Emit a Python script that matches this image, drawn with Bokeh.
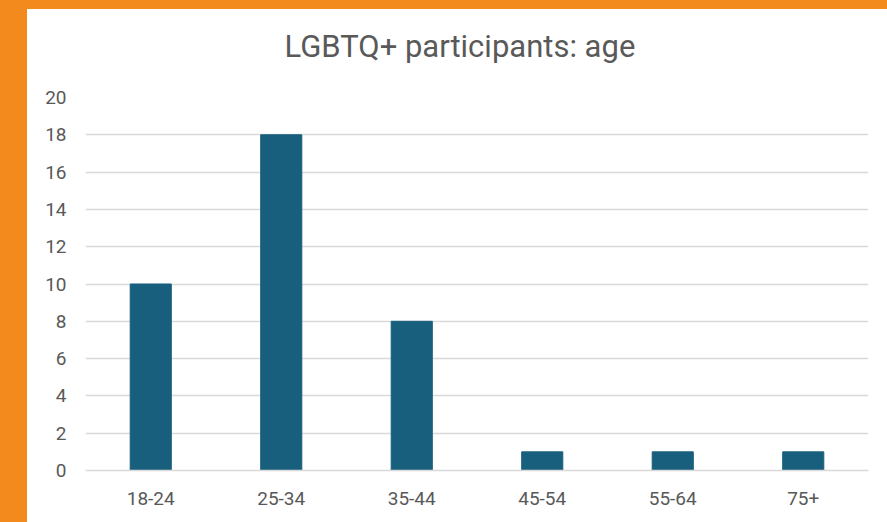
from bokeh.plotting import figure
from bokeh.models import ColumnDataSource, FactorRange, Range1d, SingleIntervalTicker, Title
from bokeh.layouts import column
from bokeh.embed import file_html
from bokeh.resources import INLINE

# Age bands and number of participants in each
age_groups = ["18-24", "25-34", "35-44", "45-54", "55-64", "75+"]
participants = [10, 18, 8, 1, 1, 1]

BAR = "#185f7e"
TEXT = "#595959"
GRID = "#d9d9d9"
ORANGE = "#f28a1e"
FONT = "Roboto"

source = ColumnDataSource(dict(age=age_groups, n=participants))

p = figure(
    x_range=FactorRange(*age_groups, range_padding=0),
    y_range=Range1d(0, 20),
    width=860, height=513,
    output_backend="svg", toolbar_location=None,
    title="LGBTQ+ participants: age",
    min_border_left=58, min_border_right=19,
    min_border_top=88, min_border_bottom=52,
    margin=(9, 0, 0, 27),
    styles={"background-color": "white"},
)

# blank spacer between the title and the plot area
p.add_layout(Title(text=" ", text_font_size="12px", standoff=12), "above")

p.vbar(x="age", top="n", width=0.315, source=source, color=BAR)

# title
p.title.align = "left"
p.title.offset = 199
p.title.standoff = 10
p.title.text_font = FONT
p.title.text_font_size = "31px"
p.title.text_font_style = "normal"
p.title.text_color = TEXT

# y axis: gridlines every 2, no axis line
p.yaxis.ticker = SingleIntervalTicker(interval=2)
p.yaxis.axis_line_color = None
p.yaxis.major_tick_line_color = None
p.yaxis.minor_tick_line_color = None
p.yaxis.major_label_standoff = 13
p.yaxis.major_label_text_font = FONT
p.yaxis.major_label_text_font_size = "19px"
p.yaxis.major_label_text_color = TEXT

# x axis
p.xaxis.axis_line_color = GRID
p.xaxis.axis_line_width = 1.5
p.xaxis.major_tick_line_color = None
p.xaxis.minor_tick_line_color = None
p.xaxis.major_label_standoff = 15
p.xaxis.major_label_text_font = FONT
p.xaxis.major_label_text_font_size = "19px"
p.xaxis.major_label_text_color = TEXT

p.xgrid.grid_line_color = None
p.ygrid.grid_line_color = GRID
p.ygrid.grid_line_width = 1.5
p.outline_line_color = None
p.background_fill_color = "white"
p.border_fill_color = "white"

page = column(p, styles={"background-color": ORANGE}, width=887, height=522)

open("out.html", "w").write(file_html(page, INLINE))
